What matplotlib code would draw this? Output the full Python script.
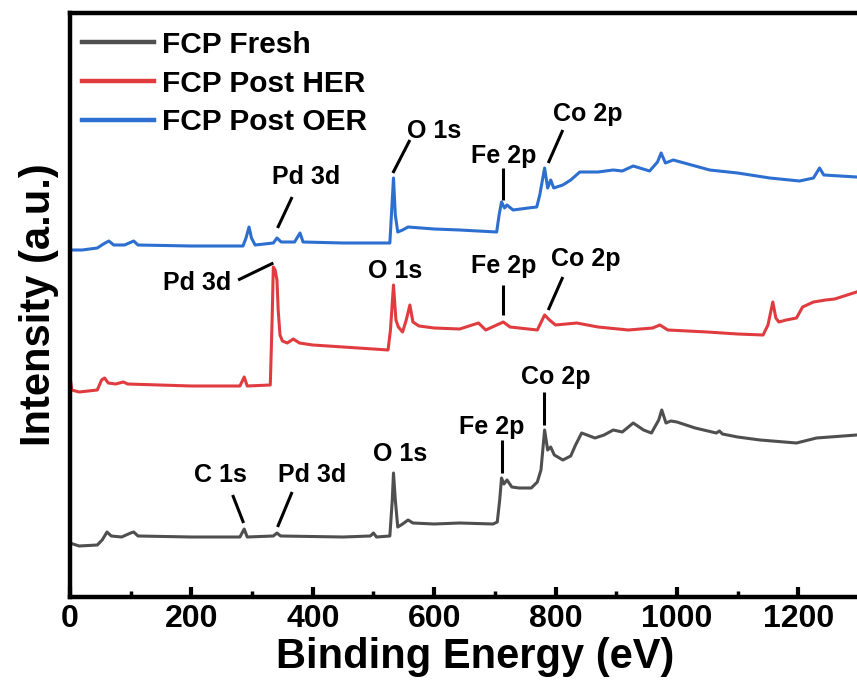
import matplotlib
matplotlib.use("Agg")
import matplotlib.pyplot as plt

plt.rcParams['font.family'] = ['Liberation Sans', 'DejaVu Sans']
plt.rcParams['font.weight'] = 'bold'

# Binding energy (eV) and intensity (a.u.)
fresh_E = [0, 15, 45, 53, 61, 68, 85, 100, 105, 112, 200, 280, 287, 292, 335, 341, 347, 450, 495, 500, 505,
           527, 531, 533, 536, 540, 548, 557, 565, 600, 642, 697, 704, 708, 711, 715, 720, 728, 740, 760, 770,
           776, 782, 787, 792, 798, 812, 825, 833, 843, 865, 880, 895, 910, 928, 945, 958, 970, 975, 982, 990,
           1000, 1030, 1065, 1070, 1075, 1100, 1137, 1197, 1230, 1296, 1300]
fresh_I = [54, 51, 52, 57, 65, 61, 60, 64, 65, 61, 60, 60, 68, 60, 61, 64, 61, 60, 61, 64, 60,
           61, 97, 124, 97, 70, 73, 77, 74, 73, 74, 73, 75, 97, 119, 113, 117, 110, 109, 109, 115,
           127, 167, 147, 150, 142, 137, 141, 152, 164, 159, 162, 167, 165, 174, 167, 164, 177, 187, 174, 176,
           175, 169, 164, 166, 163, 160, 157, 154, 159, 162, 162]

her_E = [0, 3, 15, 45, 52, 57, 63, 75, 88, 95, 200, 280, 287, 292, 330, 333, 335, 338, 341, 343, 346, 350,
         358, 368, 378, 400, 450, 500, 524, 528, 533, 537, 541, 548, 554, 560, 565, 575, 600, 642, 673, 685,
         714, 725, 770, 782, 790, 800, 835, 870, 920, 960, 972, 985, 1050, 1100, 1142, 1150, 1158, 1163, 1168,
         1180, 1197, 1207, 1225, 1245, 1260, 1296, 1300]
her_I = [220, 207, 205, 207, 217, 219, 214, 213, 215, 213, 211, 211, 220, 211, 212, 277, 330, 327, 317, 287, 262, 256,
         254, 258, 254, 252, 250, 248, 247, 267, 312, 277, 270, 265, 277, 292, 275, 271, 269, 268, 274, 267,
         275, 270, 267, 282, 277, 272, 274, 270, 267, 269, 272, 267, 265, 263, 262, 272, 295, 279, 275,
         277, 279, 290, 295, 297, 298, 305, 306]

oer_E = [0, 20, 45, 55, 64, 72, 90, 105, 112, 200, 285, 290, 295, 299, 305, 335, 341, 348, 370, 375, 379, 384,
         450, 527, 531, 533, 536, 540, 548, 557, 600, 642, 703, 707, 711, 716, 720, 730, 755, 769, 774, 782,
         787, 792, 797, 812, 825, 840, 870, 895, 910, 928, 955, 968, 974, 981, 994, 1054, 1100, 1153, 1202,
         1225, 1235, 1242, 1296, 1300]
oer_I = [347, 347, 349, 353, 356, 352, 352, 356, 352, 351, 351, 359, 370, 359, 352, 354, 359, 355, 355, 360, 364, 355,
         354, 354, 397, 419, 382, 365, 367, 370, 368, 367, 365, 382, 395, 389, 392, 387, 389, 390, 402, 429,
         409, 417, 409, 412, 417, 425, 425, 427, 426, 431, 426, 435, 444, 434, 437, 427, 424, 419, 416,
         419, 429, 422, 420, 420]

series_labels = ['FCP Fresh', 'FCP Post HER', 'FCP Post OER']
series_colors = ['#4f4f4f', '#e03c40', '#2c6fd0']

# (text, text x, text y, line x0, y0, x1, y1) ; None = no leader line
annotations = [
    ('O 1s', 600, 466, 532, 424, 560, 457),
    ('Pd 3d', 389, 420, 342, 369, 366, 400),
    ('Fe 2p', 715, 441, 713, 429, 713, 397),
    ('Co 2p', 853, 483, 788, 434, 812, 467),
    ('Pd 3d', 210, 314, 277, 317, 335, 334),
    ('O 1s', 536, 326, None, None, None, None),
    ('Fe 2p', 715, 331, 713, 312, 713, 282),
    ('Co 2p', 849, 338, 788, 287, 812, 320),
    ('C 1s', 248, 122, 286, 74, 268, 102),
    ('Pd 3d', 399, 122, 342, 70, 366, 105),
    ('O 1s', 544, 143, None, None, None, None),
    ('Fe 2p', 694, 170, 712, 157, 712, 124),
    ('Co 2p', 801, 220, 781, 205, 781, 172),
]

fig = plt.figure(figsize=(8.57, 6.86), dpi=100)
ax = fig.add_axes([70 / 857, 89 / 686, 789 / 857, 584 / 686])

for E, I, lab, col in zip([fresh_E, her_E, oer_E], [fresh_I, her_I, oer_I], series_labels, series_colors):
    ax.plot(E, I, color=col, lw=2.2, label=lab, solid_joinstyle='round')

for txt, tx, ty, x0, y0, x1, y1 in annotations:
    ax.text(tx, ty, txt, ha='center', va='center', fontsize=18, fontweight='bold', color='black')
    if x0 is not None:
        ax.plot([x0, x1], [y0, y1], color='black', lw=2.2, solid_capstyle='butt')

ax.set_xlim(0, 1300)
ax.set_ylim(0, 584)
ax.set_xticks([0, 200, 400, 600, 800, 1000, 1200])
ax.set_xticks(range(100, 1300, 200), minor=True)
ax.set_yticks([])
ax.tick_params(axis='x', which='major', direction='in', length=7, width=3, labelsize=23, pad=5)
ax.tick_params(axis='x', which='minor', direction='in', length=4, width=2.5)
for lbl in ax.get_xticklabels():
    lbl.set_fontweight('bold')
for s in ['left', 'bottom', 'top', 'right']:
    ax.spines[s].set_linewidth(3.2)

ax.set_xlabel('Binding Energy (eV)', fontsize=30, fontweight='bold')
ax.xaxis.set_label_coords(0.513, -0.068)
ax.set_ylabel('Intensity (a.u.)', fontsize=30, fontweight='bold', labelpad=8)

leg = ax.legend(loc='upper left', frameon=False, fontsize=21.5, handlelength=2.4, handletextpad=0.27,
                labelspacing=0.36, borderaxespad=0.1, borderpad=0.3, bbox_to_anchor=(0.0, 0.99))
for line in leg.get_lines():
    line.set_linewidth(3.2)
for t in leg.get_texts():
    t.set_fontweight('bold')

fig.savefig('out.png', dpi=100)
